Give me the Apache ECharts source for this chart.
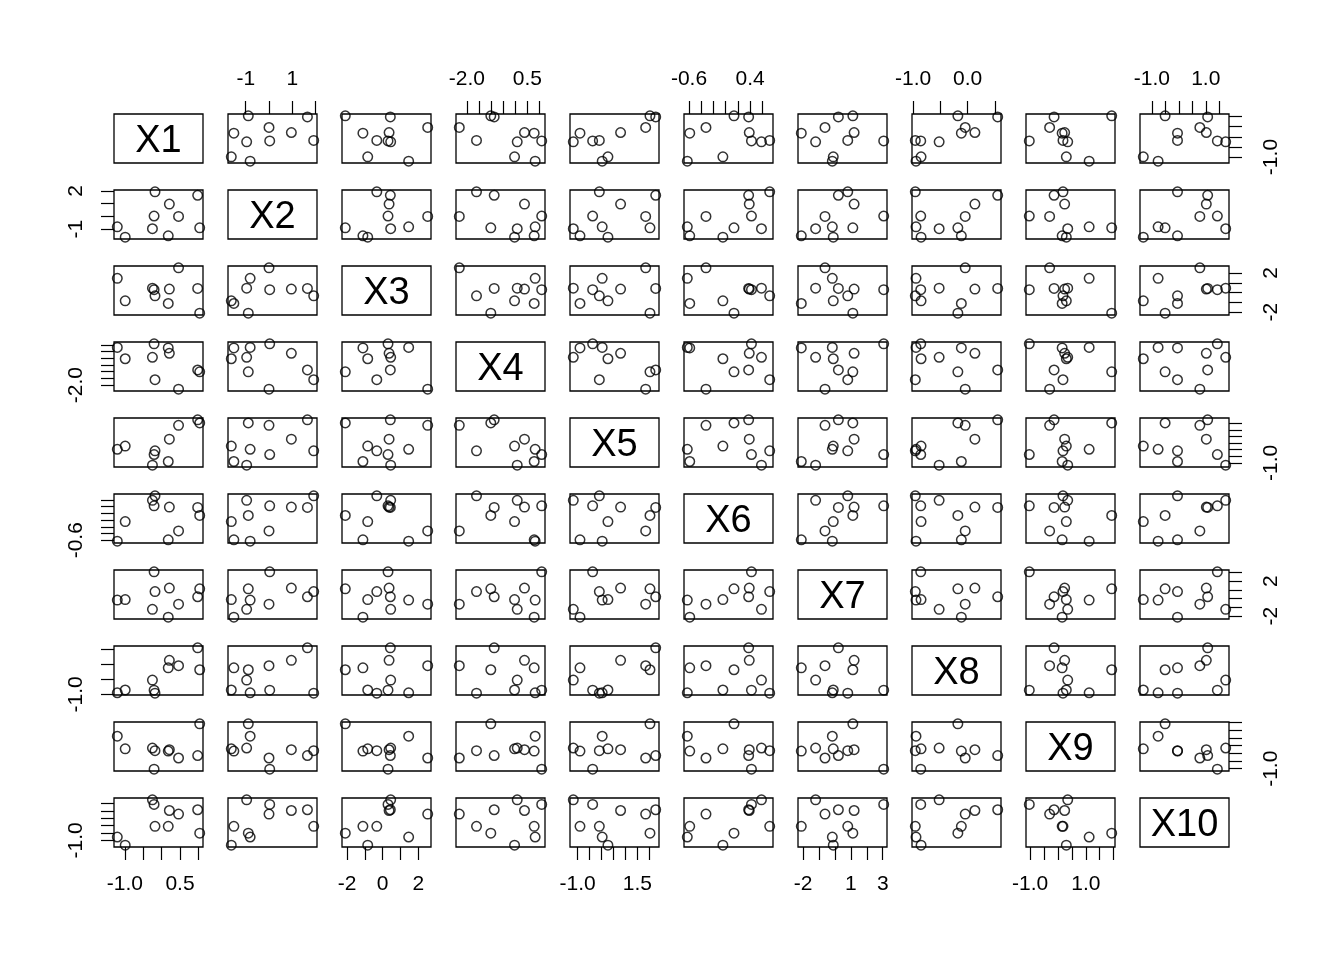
<!DOCTYPE html>
<html><head><meta charset="utf-8">
<script src="https://cdn.jsdelivr.net/npm/echarts@6/dist/echarts.min.js"></script>
<style>html,body{margin:0;padding:0;background:#fff}#c{width:1344px;height:960px}</style>
</head><body><div id="c"></div>
<script>
// ---- data (10 observations of 10 variables) ----
const varNames = ['X1','X2','X3','X4','X5','X6','X7','X8','X9','X10'];
const X1  = [-1.205, -0.99, -0.25, -0.205, -0.18, 0.18, 0.21, 0.46, 0.98, 1.035];
const X2  = [-0.81, -1.62, -0.96, 0.03, 1.92, -1.51, 0.96, 0.0, 1.65, -0.89];
const X3  = [1.46, -0.84, 0.45, 0.30, -0.33, -1.11, 0.36, 2.53, 0.43, -2.10];
const X4  = [0.82, -0.03, 0.08, 1.09, -1.60, 0.78, 0.38, -2.31, -0.87, -1.01];
const X5  = [0.03, 0.27, -1.18, -0.37, -0.09, -0.90, 0.80, 1.85, 2.27, 2.03];
const X6  = [-0.628, -0.045, 0.587, 0.423, 0.722, -0.588, 0.387, -0.322, 0.377, 0.137];
const X7  = [-0.17, -0.11, -1.22, 3.06, 0.80, -2.12, 1.20, -0.63, 0.21, 1.12];
const X8  = [-0.947, -0.854, -0.522, -0.860, -0.96, -0.114, 0.135, -0.043, 0.554, -0.178];
const X9  = [1.12, 0.30, 0.35, -1.03, 0.18, 0.15, 0.24, -0.30, -0.14, 1.93];
const X10 = [-0.77, -1.32, 1.74, 1.43, -0.05, -0.05, 1.02, 0.78, 1.07, -0.51];

// ---- tick positions and the labels R printed ----
const ticks1  = [-1, -0.5, 0, 0.5, 1];
const ticks2  = [-1, 0, 1, 2];
const ticks3  = [-2, -1, 0, 1, 2];
const ticks4  = [-2, -1.5, -1, -0.5, 0, 0.5, 1];
const ticks5  = [-1, -0.5, 0, 0.5, 1, 1.5, 2];
const ticks6  = [-0.6, -0.4, -0.2, 0, 0.2, 0.4, 0.6];
const ticks7  = [-2, -1, 0, 1, 2, 3];
const ticks8  = [-1, -0.5, 0, 0.5];
const ticks9  = [-1, -0.5, 0, 0.5, 1, 1.5, 2];
const ticks10 = [-1, -0.5, 0, 0.5, 1, 1.5];
// labels on the horizontal (top/bottom) axes
const hLabels = [[-1, 0.5], [-1, 1], [-2, 0, 2], [-2, 0.5], [-1, 1.5], [-0.6, 0.4], [-2, 1, 3], [-1, 0], [-1, 1], [-1, 1]];
// labels on the vertical (left/right) axes
const vLabels = [[-1], [-1, 2], [-2, 2], [-2], [-1], [-0.6], [-2, 2], [-1], [-1], [-1]];
const decimals = [1, 0, 0, 1, 1, 1, 0, 1, 1, 1];

const vars = [X1, X2, X3, X4, X5, X6, X7, X8, X9, X10];
const ticks = [ticks1, ticks2, ticks3, ticks4, ticks5, ticks6, ticks7, ticks8, ticks9, ticks10];

// ---- layout ----
const L0 = 114, T0 = 114, W = 89, H = 49, DX = 114, DY = 76;
const FONT = 'Liberation Sans, Arial, Helvetica, sans-serif';
const AXFS = 21;

function usr(v) {
  const mn = Math.min(...v), mx = Math.max(...v), e = (mx - mn) * 0.04;
  return [mn - e, mx + e];
}

const grids = [], xAxes = [], yAxes = [], series = [], graphics = [];
const n = vars.length;
for (let i = 0; i < n; i++) {
  for (let j = 0; j < n; j++) {
    const idx = i * n + j;
    grids.push({ left: L0 + DX * j, top: T0 + DY * i, width: W, height: H,
      show: true, borderColor: '#000', borderWidth: 1.3, backgroundColor: 'rgba(0,0,0,0)' });
    const xr = usr(vars[j]), yr = usr(vars[i]);
    const showTop = (i === 0 && j % 2 === 1 && i !== j);
    const showBottom = (i === n - 1 && j % 2 === 0 && i !== j);
    const showLeft = (j === 0 && i % 2 === 1 && i !== j);
    const showRight = (j === n - 1 && i % 2 === 0 && i !== j);
    const hx = showTop || showBottom;
    const vy = showLeft || showRight;
    const dj = decimals[j], di = decimals[i];
    xAxes.push({
      type: 'value', gridIndex: idx, min: xr[0], max: xr[1],
      position: showTop ? 'top' : 'bottom',
      axisLine: { show: false, onZero: false }, splitLine: { show: false },
      axisTick: { show: hx, inside: false, customValues: ticks[j], length: 13, lineStyle: { color: '#000', width: 1.2 } },
      axisLabel: { show: hx, customValues: hLabels[j], formatter: v => Number(v).toFixed(dj),
        margin: showTop ? 24 : 27, fontSize: AXFS, color: '#000', fontFamily: FONT, hideOverlap: false,
        showMinLabel: true, showMaxLabel: true }
    });
    yAxes.push({
      type: 'value', gridIndex: idx, min: yr[0], max: yr[1],
      position: showRight ? 'right' : 'left',
      axisLine: { show: false, onZero: false }, splitLine: { show: false },
      axisTick: { show: vy, inside: false, customValues: ticks[i], length: 13, lineStyle: { color: '#000', width: 1.2 } },
      axisLabel: { show: vy, customValues: vLabels[i], formatter: v => Number(v).toFixed(di),
        rotate: 90, margin: showRight ? 32 : 27, fontSize: AXFS, color: '#000', fontFamily: FONT,
        hideOverlap: false, showMinLabel: true, showMaxLabel: true }
    });
    if (i === j) {
      graphics.push({ type: 'text', x: L0 + DX * j + W / 2, y: T0 + DY * i + H / 2 + 3,
        style: { text: varNames[i], fontSize: 38, fontFamily: FONT, fill: '#000',
          textAlign: 'center', textVerticalAlign: 'middle' } });
    } else {
      series.push({
        type: 'scatter', xAxisIndex: idx, yAxisIndex: idx,
        data: vars[j].map((x, k) => [x, vars[i][k]]),
        symbol: 'circle', symbolSize: 9.5,
        itemStyle: { color: 'rgba(0,0,0,0)', borderColor: '#000', borderWidth: 1.5 },
        silent: true, animation: false, clip: true
      });
    }
  }
}

const chart = echarts.init(document.getElementById('c'), null, { renderer: 'canvas' });
chart.setOption({
  backgroundColor: '#fff',
  animation: false,
  grid: grids, xAxis: xAxes, yAxis: yAxes, series: series,
  graphic: graphics
});
</script>
</body></html>
